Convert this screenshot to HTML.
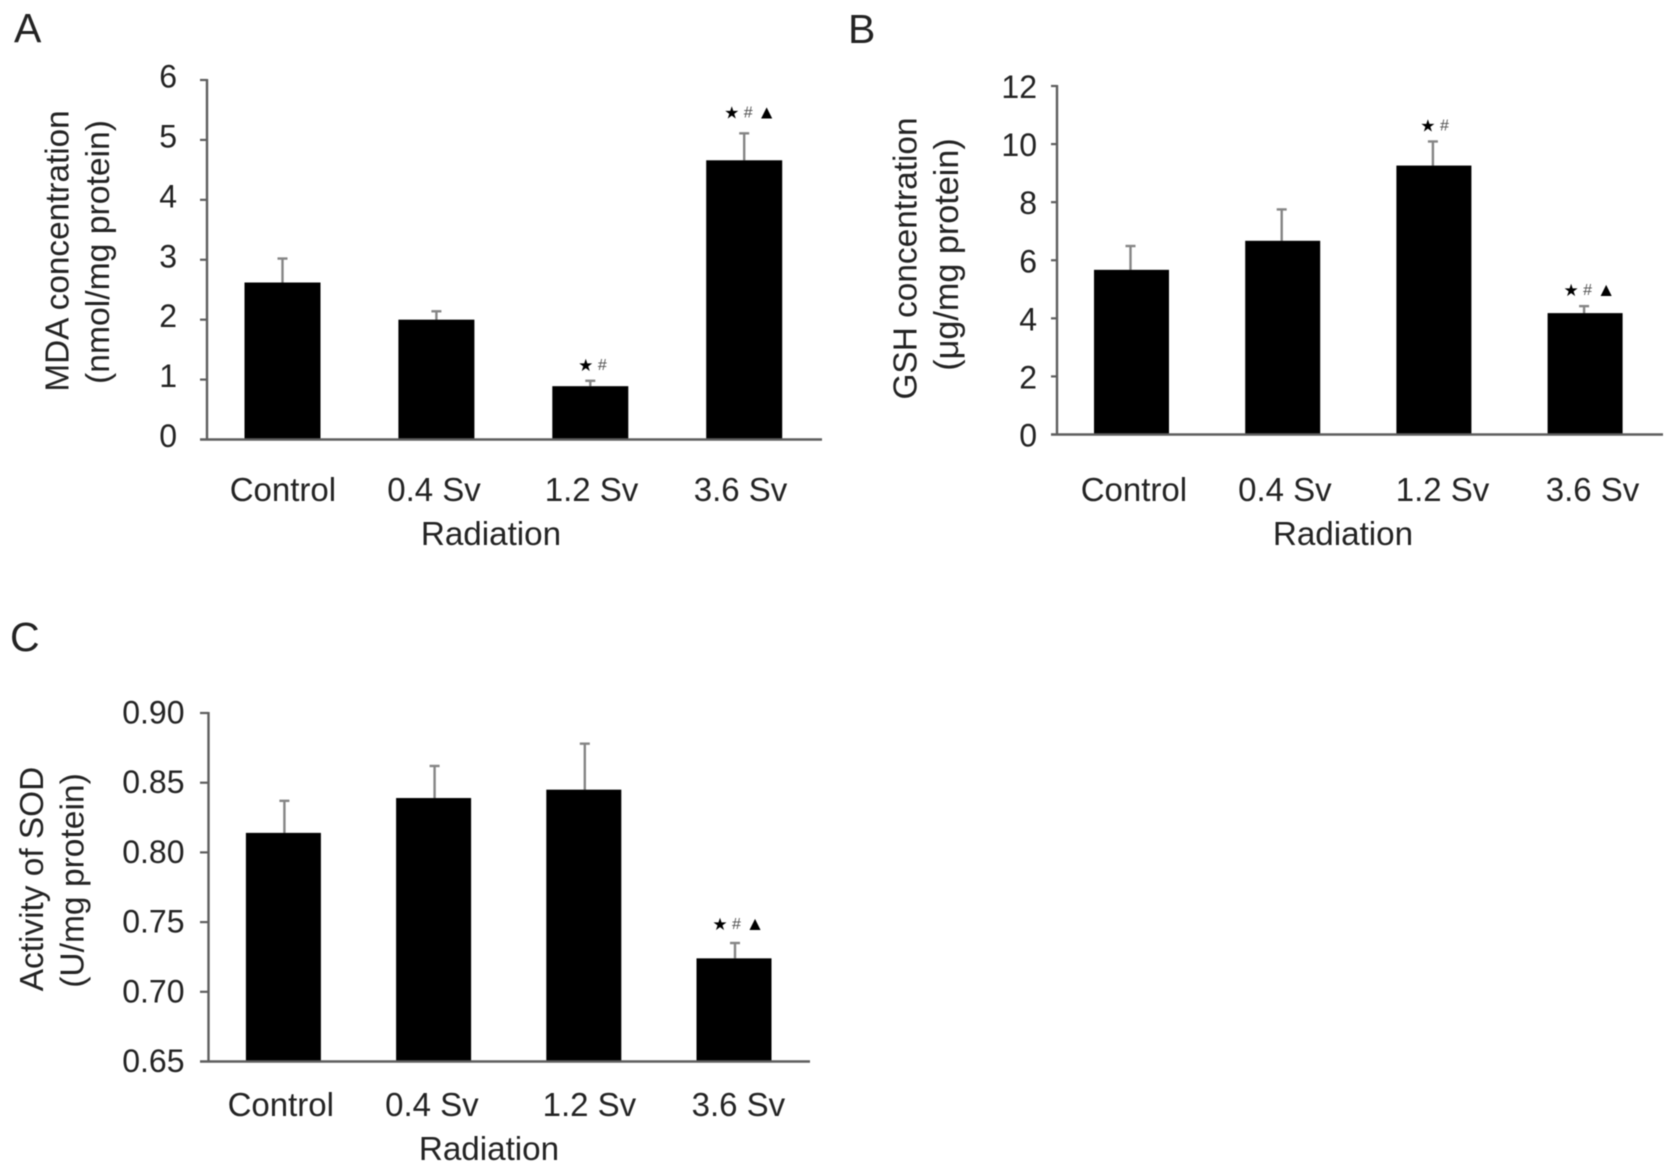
<!DOCTYPE html>
<html lang="en">
<head>
<meta charset="utf-8">
<title>Radiation dose effects on MDA, GSH and SOD</title>
<style>
  html, body { margin: 0; padding: 0; background: #fff; }
  #figure { display: block; width: 1677px; height: 1172px; filter: blur(0.5px); }
  text { font-family: "Liberation Sans", "DejaVu Sans", sans-serif; fill: #232323; }
</style>
</head>
<body>
<svg id="figure" xmlns="http://www.w3.org/2000/svg" width="1677" height="1172" viewBox="0 0 1677 1172"></svg>
<script>
// ---- data ----
const categories = ['Control', '0.4 Sv', '1.2 Sv', '3.6 Sv'];
const xAxisTitle = 'Radiation';

const mdaTicks = [0, 1, 2, 3, 4, 5, 6];
const mdaTickLabels = ['0', '1', '2', '3', '4', '5', '6'];
const mdaValues = [2.62, 2.0, 0.89, 4.66];
const mdaErrors = [0.40, 0.14, 0.09, 0.45];
const mdaMarks = ['', '', '★#', '★#▲'];

const gshTicks = [0, 2, 4, 6, 8, 10, 12];
const gshTickLabels = ['0', '2', '4', '6', '8', '10', '12'];
const gshValues = [5.67, 6.67, 9.26, 4.18];
const gshErrors = [0.82, 1.08, 0.83, 0.24];
const gshMarks = ['', '', '★#', '★#▲'];

const sodTicks = [0.65, 0.70, 0.75, 0.80, 0.85, 0.90];
const sodTickLabels = ['0.65', '0.70', '0.75', '0.80', '0.85', '0.90'];
const sodValues = [0.814, 0.839, 0.845, 0.724];
const sodErrors = [0.023, 0.023, 0.033, 0.011];
const sodMarks = ['', '', '', '★#▲'];

// ---- layout ----
const panels = [
  { id: 'mda', letter: 'A', letterX: 14, letterY: 42,
    ticks: mdaTicks, tickLabels: mdaTickLabels, values: mdaValues, errors: mdaErrors, marks: mdaMarks,
    axisX: 207, axisLeft: 200, axisRight: 822, top: 80, bottom: 439.5,
    firstBar: 282.5, barStep: 153.9, barWidth: 76, errorShift: 0,
    tickRight: 177, tickDy: 7.5, labelY: 501, titleY: 545, titleX: 491,
    labelShift: [0.4, -2.4, 1.2, -3.7], markShift: 1.5,
    yTitle: 'MDA concentration', yTitleX: 68.5, yTitleY: 251,
    yUnit: '(nmol/mg protein)', yUnitX: 109, yUnitY: 252, unitSize: 33.7, titleSize: 33.3,
    markGap: [0, 0, 16, 21] },
  { id: 'gsh', letter: 'B', letterX: 848, letterY: 43,
    ticks: gshTicks, tickLabels: gshTickLabels, values: gshValues, errors: gshErrors, marks: gshMarks,
    axisX: 1057, axisLeft: 1051, axisRight: 1663, top: 86, bottom: 434.5,
    firstBar: 1131.5, barStep: 151.2, barWidth: 75, errorShift: -1,
    tickRight: 1037, tickDy: 12, labelY: 501, titleY: 545, titleX: 1343,
    labelShift: [2.4, 2.2, 8.6, 7.4], markShift: 0,
    yTitle: 'GSH concentration', yTitleX: 916.5, yTitleY: 258.5,
    yUnit: '(μg/mg protein)', yUnitX: 958, yUnitY: 254.5, unitSize: 34.2, titleSize: 33.4,
    markGap: [0, 0, 16, 16] },
  { id: 'sod', letter: 'C', letterX: 10, letterY: 651,
    ticks: sodTicks, tickLabels: sodTickLabels, values: sodValues, errors: sodErrors, marks: sodMarks,
    axisX: 208.5, axisLeft: 200, axisRight: 810, top: 713, bottom: 1061.5,
    firstBar: 283.4, barStep: 150.2, barWidth: 75, errorShift: 1,
    tickRight: 184.5, tickDy: 10.5, labelY: 1116, titleY: 1160, titleX: 489,
    labelShift: [-2.6, -1.7, 5.6, 4.4], markShift: 0,
    yTitle: 'Activity of SOD', yTitleX: 43, yTitleY: 879,
    yUnit: '(U/mg protein)', yUnitX: 83.5, yUnitY: 880.5, unitSize: 33.6, titleSize: 33.4,
    markGap: [0, 0, 0, 19] }
];
const AXIS_COLOR = '#5e5e5e';
const ERROR_COLOR = '#858585';
const SVGNS = 'http://www.w3.org/2000/svg';
const MARK_STEPS = [0, 16.5, 35];
const figure = document.getElementById('figure');

function make(tag, attrs, parent, content) {
  const el = document.createElementNS(SVGNS, tag);
  for (const key in attrs) el.setAttribute(key, attrs[key]);
  if (content !== undefined) el.textContent = content;
  parent.appendChild(el);
  return el;
}

function drawPanel(p) {
  const lo = p.ticks[0];
  const hi = p.ticks[p.ticks.length - 1];
  const yScale = v => p.bottom + (v - lo) / (hi - lo) * (p.top - p.bottom);
  const xScale = i => p.firstBar + i * p.barStep;

  const g = make('g', {}, figure);
  
  

  const letter = make('text', { x: p.letterX, y: p.letterY, 'font-size': 41 }, g, p.letter);
  
  

  // bars and error bars
  p.values.forEach((v, i) => {
    const cx = xScale(i);
    const yv = yScale(v);
    const yErr = yScale(v + p.errors[i]);
    const ex = cx + p.errorShift;

    const stem = make('line', { x1: ex, x2: ex, y1: yErr, y2: yv, stroke: ERROR_COLOR, 'stroke-width': 2.4 }, g);
    
    

    const cap = make('line', { x1: ex - 5, x2: ex + 5, y1: yErr, y2: yErr, stroke: ERROR_COLOR, 'stroke-width': 2.4 }, g);
    
    

    const bar = make('rect', { x: cx - p.barWidth / 2, y: yv, width: p.barWidth, height: p.bottom - yv, fill: '#000' }, g);
    
    

    // significance marks
    const glyphs = Array.from(p.marks[i]);
    const startOffset = glyphs.length === 3 ? -14 : -6;
    const markY = yErr - p.markGap[i];
    glyphs.forEach((glyph, j) => {
      const isHash = glyph === '#';
      const isTriangle = glyph === '▲';
      const mark = make('text', {
        x: cx + startOffset + p.markShift + MARK_STEPS[j], y: markY + (isHash ? 5 : 6), 'text-anchor': 'middle',
        'font-size': isHash ? 16 : isTriangle ? 19 : 17,
        style: 'fill:' + (isHash ? '#505050' : '#000')
      }, g, glyph);
      
      
    });

    const label = make('text', { x: cx + p.labelShift[i], y: p.labelY, 'text-anchor': 'middle', 'font-size': 33 }, g, categories[i]);
    
    
  });

  // axes
  const yAxis = make('line', { x1: p.axisX, x2: p.axisX, y1: p.top - 1, y2: p.bottom + 1, stroke: AXIS_COLOR, 'stroke-width': 2.4 }, g);
  
  

  const xAxis = make('line', { x1: p.axisLeft, x2: p.axisRight, y1: p.bottom, y2: p.bottom, stroke: AXIS_COLOR, 'stroke-width': 2.4 }, g);
  
  

  p.ticks.forEach((t, i) => {
    const y = yScale(t);
    if (i > 0) {
      const tick = make('line', { x1: p.axisLeft, x2: p.axisX, y1: y, y2: y, stroke: AXIS_COLOR, 'stroke-width': 2.2 }, g);
      
      
    }
    const tl = make('text', { x: p.tickRight, y: y + p.tickDy, 'text-anchor': 'end', 'font-size': 32 }, g, p.tickLabels[i]);
    
    
  });

  // titles
  const xTitle = make('text', { x: p.titleX, y: p.titleY, 'text-anchor': 'middle', 'font-size': 33.2 }, g, xAxisTitle);
  
  

  const yTitle = make('text', { x: 0, y: 0, 'text-anchor': 'middle', 'font-size': p.titleSize, transform: 'translate(' + p.yTitleX + ' ' + p.yTitleY + ') rotate(-90)' }, g, p.yTitle);
  
  

  const yUnit = make('text', { x: 0, y: 0, 'text-anchor': 'middle', 'font-size': p.unitSize, transform: 'translate(' + p.yUnitX + ' ' + p.yUnitY + ') rotate(-90)' }, g, p.yUnit);
  
  
}

panels.forEach(drawPanel);
</script>
</body>
</html>
